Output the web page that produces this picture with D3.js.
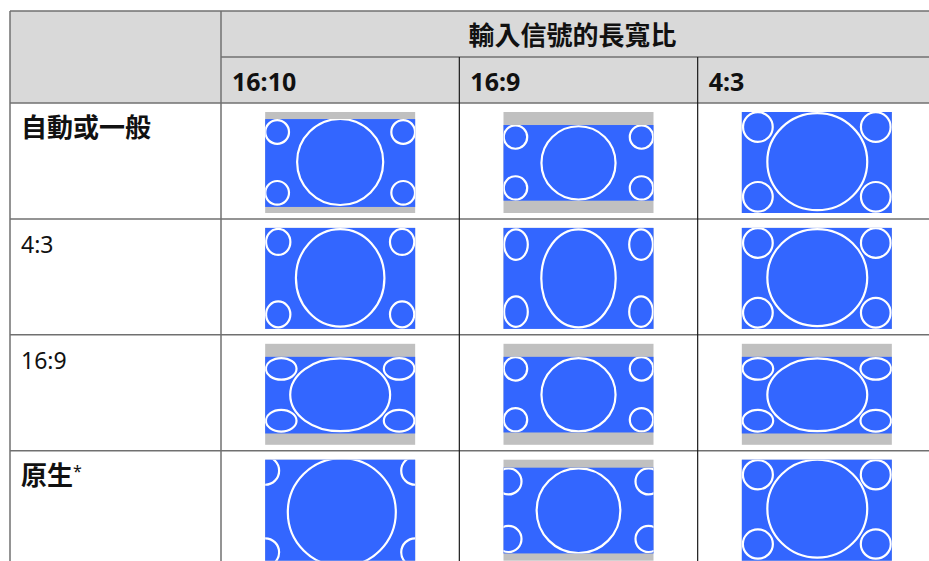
<!DOCTYPE html>
<html>
<head>
<meta charset="utf-8">
<script src="https://cdn.jsdelivr.net/npm/d3@7"></script>
<style>
  html, body { margin: 0; padding: 0; background: #fff; }
  svg { display: block; }
</style>
</head>
<body>
<svg id="chart" width="929" height="561"></svg>
<script>
// ---------------- DATA ----------------
const headerTitle = "輸入信號的長寬比";
const inputRatios = ["16:10", "16:9", "4:3"];
const aspectModes = ["自動或一般", "4:3", "16:9", "原生"];
const modeBold = [true, false, false, true];
const modeFootnote = ["", "", "", "*"];

// per-cell proportions (row-major: mode x input ratio),
// all expressed as fractions of the picture frame
const blueTop     = [0.070, 0.129, 0.000,  0.000, 0.000, 0.000,  0.129, 0.129, 0.129,  0.000, 0.079, 0.000];
const blueBottom  = [0.940, 0.878, 1.000,  1.000, 1.000, 1.000,  0.888, 0.878, 0.888,  1.000, 0.928, 1.000];
const bigCx       = [0.500, 0.500, 0.503,  0.500, 0.500, 0.503,  0.500, 0.500, 0.503,  0.511, 0.500, 0.503];
const bigCy       = [0.495, 0.504, 0.492,  0.495, 0.500, 0.492,  0.505, 0.504, 0.505,  0.520, 0.505, 0.485];
const bigRx       = [0.287, 0.247, 0.333,  0.295, 0.248, 0.333,  0.333, 0.247, 0.333,  0.360, 0.279, 0.333];
const bigRy       = [0.426, 0.363, 0.480,  0.482, 0.485, 0.480,  0.360, 0.363, 0.360,  0.535, 0.419, 0.485];
const smallCx     = [0.080, 0.080, 0.107,  0.087, 0.083, 0.107,  0.107, 0.080, 0.107,  0.000, 0.033, 0.107];
const smallRx     = [0.079, 0.078, 0.099,  0.081, 0.079, 0.099,  0.102, 0.078, 0.102,  0.093, 0.087, 0.100];
const smallRy     = [0.117, 0.116, 0.147,  0.129, 0.151, 0.147,  0.107, 0.116, 0.107,  0.139, 0.129, 0.145];
const smallCyTop  = [0.198, 0.248, 0.149,  0.139, 0.165, 0.149,  0.248, 0.248, 0.248,  0.109, 0.215, 0.149];
const smallCyBot  = [0.800, 0.752, 0.840,  0.856, 0.829, 0.840,  0.762, 0.752, 0.762,  0.917, 0.785, 0.835];

// ---------------- LAYOUT ----------------
const svg = d3.select("#chart");
const W = 929, H = 561;
const tableLeft = 10, tableTop = 11, tableRight = 936;
const labelColRight = 221;
const header1Bottom = 57, header2Bottom = 103;
const rowH = 115.9;
const frameW = 150, frameH = 101, frameOffY = 9;

const colorHeader = "#d9d9d9";
const colorGrid = "#707070";
const colorGridDark = "#1a1a1a";
const colorBlue = "#3366ff";
const colorBar = "#c0c0c0";

const latin = "'Noto Sans', 'Open Sans', 'Noto Sans CJK TC', sans-serif";
const cjk = "'Noto Sans CJK TC', 'Noto Sans', sans-serif";

const x = d3.scaleBand().domain(inputRatios).range([labelColRight, tableRight]).paddingInner(0).paddingOuter(0);
const y = d3.scaleBand().domain(aspectModes).range([header2Bottom, header2Bottom + rowH * aspectModes.length]).padding(0);

svg.append("rect").attr("width", W).attr("height", H).attr("fill", "#fff");

// header background
svg.append("rect")
  .attr("x", tableLeft).attr("y", tableTop)
  .attr("width", tableRight - tableLeft).attr("height", header2Bottom - tableTop)
  .attr("fill", colorHeader);

// ---------------- CELLS (pictures) ----------------
const defs = svg.append("defs");
const cells = [];
aspectModes.forEach((m, r) => {
  inputRatios.forEach((c, k) => {
    cells.push({ mode: m, ratio: c, i: r * inputRatios.length + k });
  });
});

cells.forEach(d => {
  const i = d.i;
  const fx0 = x(d.ratio) + (x.bandwidth() - frameW) / 2;
  const fy0 = y(d.mode) + frameOffY;
  const sx = d3.scaleLinear().domain([0, 1]).range([fx0, fx0 + frameW]);
  const sy = d3.scaleLinear().domain([0, 1]).range([fy0, fy0 + frameH]);
  const g = svg.append("g").attr("class", "cell");

  // gray frame (letterbox bars)
  g.append("rect")
    .attr("x", sx(0)).attr("y", sy(0))
    .attr("width", sx(1) - sx(0)).attr("height", sy(1) - sy(0))
    .attr("fill", colorBar);

  // blue visible picture
  const bx = sx(0), by = sy(blueTop[i]), bw = sx(1) - sx(0), bh = sy(blueBottom[i]) - sy(blueTop[i]);
  g.append("rect").attr("x", bx).attr("y", by).attr("width", bw).attr("height", bh).attr("fill", colorBlue);

  const clipId = "clip" + i;
  defs.append("clipPath").attr("id", clipId)
    .append("rect").attr("x", bx).attr("y", by).attr("width", bw).attr("height", bh);

  const shapes = g.append("g").attr("clip-path", "url(#" + clipId + ")");
  const rxPx = v => sx(v) - sx(0);
  const ryPx = v => sy(v) - sy(0);

  const ellipses = [
    { cx: bigCx[i], cy: bigCy[i], rx: bigRx[i], ry: bigRy[i] },
    { cx: smallCx[i], cy: smallCyTop[i], rx: smallRx[i], ry: smallRy[i] },
    { cx: 1 - smallCx[i], cy: smallCyTop[i], rx: smallRx[i], ry: smallRy[i] },
    { cx: smallCx[i], cy: smallCyBot[i], rx: smallRx[i], ry: smallRy[i] },
    { cx: 1 - smallCx[i], cy: smallCyBot[i], rx: smallRx[i], ry: smallRy[i] }
  ];
  shapes.selectAll("ellipse").data(ellipses).join("ellipse")
    .attr("cx", e => sx(e.cx)).attr("cy", e => sy(e.cy))
    .attr("rx", e => rxPx(e.rx)).attr("ry", e => ryPx(e.ry))
    .attr("fill", "none").attr("stroke", "#fff").attr("stroke-width", 2.2);
});

// ---------------- GRID LINES ----------------
const grid = svg.append("g");
function hline(yv, x1, x2, col) {
  grid.append("line").attr("x1", x1).attr("x2", x2).attr("y1", yv).attr("y2", yv)
    .attr("stroke", col).attr("stroke-width", 1.5);
}
function vline(xv, y1, y2, col, w) {
  grid.append("line").attr("x1", xv).attr("x2", xv).attr("y1", y1).attr("y2", y2)
    .attr("stroke", col).attr("stroke-width", w);
}
hline(tableTop, tableLeft, tableRight, colorGrid);
hline(header1Bottom, labelColRight, tableRight, colorGrid);
hline(header2Bottom, tableLeft, tableRight, colorGrid);
aspectModes.slice(1).forEach(m => hline(y(m), tableLeft, tableRight, colorGrid));
vline(tableLeft, tableTop, H, colorGrid, 1.5);
vline(labelColRight, tableTop, H, colorGrid, 1.5);
inputRatios.slice(1).forEach(c => vline(x(c), header1Bottom, H, colorGridDark, 1.2));

// ---------------- TEXT ----------------
svg.append("text")
  .attr("x", (labelColRight + 924) / 2).attr("y", 45)
  .attr("text-anchor", "middle")
  .attr("font-family", cjk).attr("font-weight", "bold").attr("font-size", 26)
  .attr("fill", "#111")
  .text(headerTitle);

svg.selectAll("text.colhead").data(inputRatios).join("text")
  .attr("class", "colhead")
  .attr("x", d => x(d) + 11).attr("y", header1Bottom + 34)
  .attr("font-family", latin).attr("font-weight", "bold").attr("font-size", 25)
  .attr("fill", "#111")
  .text(d => d);

const rowLabels = svg.selectAll("text.rowhead").data(aspectModes).join("text")
  .attr("class", "rowhead")
  .attr("x", tableLeft + 11).attr("y", d => y(d) + 34)
  .attr("font-family", (d, i) => modeBold[i] ? cjk : latin)
  .attr("font-weight", (d, i) => modeBold[i] ? "bold" : "normal")
  .attr("font-size", (d, i) => modeBold[i] ? 26 : 23)
  .attr("fill", "#111");
rowLabels.append("tspan").text(d => d);
rowLabels.append("tspan")
  .attr("font-family", latin).attr("font-weight", "normal").attr("font-size", 16)
  .attr("dy", -8)
  .text((d, i) => modeFootnote[i]);
</script>
</body>
</html>
